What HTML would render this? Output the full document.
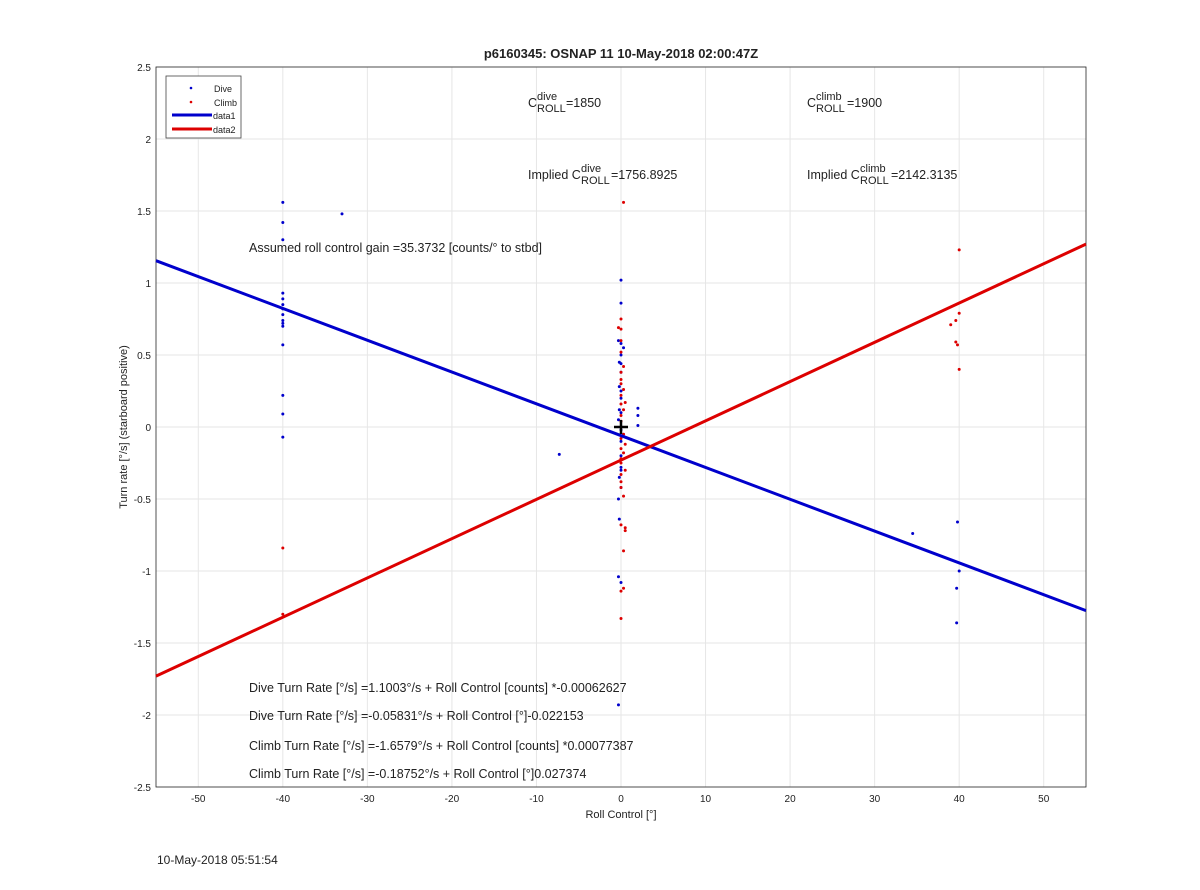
<!DOCTYPE html>
<html><head><meta charset="utf-8"><style>
body{margin:0;background:#fff;font-family:"Liberation Sans",sans-serif}
svg text{font-family:"Liberation Sans",sans-serif;fill:#222}
</style></head><body>
<svg id="c" width="1200" height="885" xmlns="http://www.w3.org/2000/svg">
<rect width="1200" height="885" fill="#fff"/>
<g id="grid"></g><g id="ticks"></g><g id="marks"></g>
<text x="621" y="58" text-anchor="middle" font-size="13" font-weight="bold">p6160345: OSNAP 11 10-May-2018 02:00:47Z</text>
<text x="621" y="818" text-anchor="middle" font-size="11">Roll Control [°]</text>
<text transform="translate(127,427) rotate(-90)" text-anchor="middle" font-size="11">Turn rate [°/s] (starboard positive)</text>
<g font-size="12.5">
<text x="528" y="107">C</text><text x="537" y="100" font-size="11">dive</text><text x="537" y="112" font-size="11">ROLL</text><text x="566" y="107">=1850</text>
<text x="807" y="107">C</text><text x="816" y="100" font-size="11">climb</text><text x="816" y="112" font-size="11">ROLL</text><text x="847" y="107">=1900</text>
<text x="528" y="179">Implied C</text><text x="581" y="172" font-size="11">dive</text><text x="581" y="184" font-size="11">ROLL</text><text x="611" y="179">=1756.8925</text>
<text x="807" y="179">Implied C</text><text x="860" y="172" font-size="11">climb</text><text x="860" y="184" font-size="11">ROLL</text><text x="891" y="179">=2142.3135</text>
<text x="249" y="252">Assumed roll control gain =35.3732 [counts/° to stbd]</text>
<text x="249" y="692">Dive Turn Rate [°/s] =1.1003°/s + Roll Control [counts] *-0.00062627</text>
<text x="249" y="720">Dive Turn Rate [°/s] =-0.05831°/s + Roll Control [°]-0.022153</text>
<text x="249" y="750">Climb Turn Rate [°/s] =-1.6579°/s + Roll Control [counts] *0.00077387</text>
<text x="249" y="778">Climb Turn Rate [°/s] =-0.18752°/s + Roll Control [°]0.027374</text>
</g>
<text x="157" y="864" font-size="12">10-May-2018 05:51:54</text>
<g>
<rect x="166" y="76" width="75" height="62" fill="#fff" stroke="#444" stroke-width="0.8"/>
<circle cx="191" cy="88" r="1.3" fill="#0000cc"/><text x="214" y="92" font-size="9">Dive</text>
<circle cx="191" cy="102" r="1.3" fill="#dd0000"/><text x="214" y="106" font-size="9">Climb</text>
<line x1="172" y1="115" x2="212" y2="115" stroke="#0000cc" stroke-width="3"/><text x="213" y="119" font-size="9">data1</text>
<line x1="172" y1="129" x2="212" y2="129" stroke="#dd0000" stroke-width="3"/><text x="213" y="133" font-size="9">data2</text>
</g>
</svg>
<script>
const xTicks=[-50,-40,-30,-20,-10,0,10,20,30,40,50];
const yTicks=[2.5,2,1.5,1,0.5,0,-0.5,-1,-1.5,-2,-2.5];
const diveX=[-40,-40,-40,-40,-40,-40,-40,-40,-40,-40,-40,-40,-40,-40,-40,-33,-7.3,0,0,-0.3,0,0.3,0,-0.2,0,0,-0.2,0,0,-0.2,0,-0.3,0,0,0,0,0,-0.2,0,-0.3,-0.2,-0.3,0,-0.3,2,2,2,34.5,39.8,40,39.7,39.7];
const diveY=[1.56,1.42,1.30,0.93,0.89,0.85,0.82,0.78,0.74,0.72,0.70,0.57,0.22,0.09,-0.07,1.48,-0.19,1.02,0.86,0.6,0.58,0.55,0.5,0.45,0.44,0.38,0.28,0.25,0.2,0.12,0.10,0.05,-0.02,-0.1,-0.2,-0.28,-0.3,-0.35,-0.42,-0.5,-0.64,-1.04,-1.08,-1.93,0.13,0.08,0.01,-0.74,-0.66,-1.0,-1.12,-1.36];
const climbX=[-40,-40,0.3,0,-0.3,0,0,0,0.3,0,0,0,0.3,0,0.5,0,0.3,0,0,0.3,0,0.5,0,0.3,0,0,0.5,0,0,0,0.3,0,0.5,0.5,0.3,0.3,0,0,40,39,39.6,40,39.6,39.8,40];
const climbY=[-0.84,-1.3,1.56,0.75,0.69,0.68,0.6,0.52,0.42,0.38,0.33,0.3,0.26,0.22,0.17,0.16,0.12,0.08,0.04,-0.05,-0.08,-0.12,-0.15,-0.18,-0.22,-0.25,-0.3,-0.33,-0.38,-0.42,-0.48,-0.68,-0.7,-0.72,-0.86,-1.12,-1.14,-1.33,1.23,0.71,0.74,0.79,0.59,0.57,0.4];
const fitX=[-55,55];
const diveFit=[1.155,-1.275];
const climbFit=[-1.73,1.27];
const L=156,R=1086,T=67,B=787;
const sx=v=>L+(v+55)/110*(R-L), sy=v=>T+(2.5-v)/5*(B-T);
const NS="http://www.w3.org/2000/svg";
function mk(p,t,a){const e=document.createElementNS(NS,t);for(const k in a)e.setAttribute(k,a[k]);p.appendChild(e);return e;}
const g=document.getElementById('grid'),tk=document.getElementById('ticks'),m=document.getElementById('marks');
mk(g,'rect',{x:L,y:T,width:R-L,height:B-T,fill:'#fff'});
xTicks.forEach(v=>{const x=sx(v);
const l=mk(g,'line',{x1:x,y1:T,x2:x,y2:B,stroke:'#e6e6e6'});


const t=mk(tk,'text',{x:x,y:B+15,'text-anchor':'middle','font-size':'10'});t.textContent=v;

});
yTicks.forEach(v=>{const y=sy(v);
const l=mk(g,'line',{x1:L,y1:y,x2:R,y2:y,stroke:'#e6e6e6'});


const t=mk(tk,'text',{x:L-5,y:y+4,'text-anchor':'end','font-size':'10'});t.textContent=v;

});
const ax=mk(g,'rect',{x:L,y:T,width:R-L,height:B-T,fill:'none',stroke:'#262626','stroke-width':0.8});


diveX.forEach((v,i)=>{if(diveY[i]===undefined)return;const c=mk(m,'circle',{cx:sx(v),cy:sy(diveY[i]),r:1.5,fill:'#0000cc'});

});
climbX.forEach((v,i)=>{if(climbY[i]===undefined)return;const c=mk(m,'circle',{cx:sx(v),cy:sy(climbY[i]),r:1.5,fill:'#dd0000'});

});
const l1=mk(m,'line',{x1:sx(fitX[0]),y1:sy(diveFit[0]),x2:sx(fitX[1]),y2:sy(diveFit[1]),stroke:'#0000cc','stroke-width':3});


const l2=mk(m,'line',{x1:sx(fitX[0]),y1:sy(climbFit[0]),x2:sx(fitX[1]),y2:sy(climbFit[1]),stroke:'#dd0000','stroke-width':3});


const cx=sx(0),cy=sy(0);
const p=mk(m,'path',{d:`M${cx-7} ${cy}H${cx+7}M${cx} ${cy-7}V${cy+7}`,stroke:'#000','stroke-width':2.5});


</script>
</body></html>
